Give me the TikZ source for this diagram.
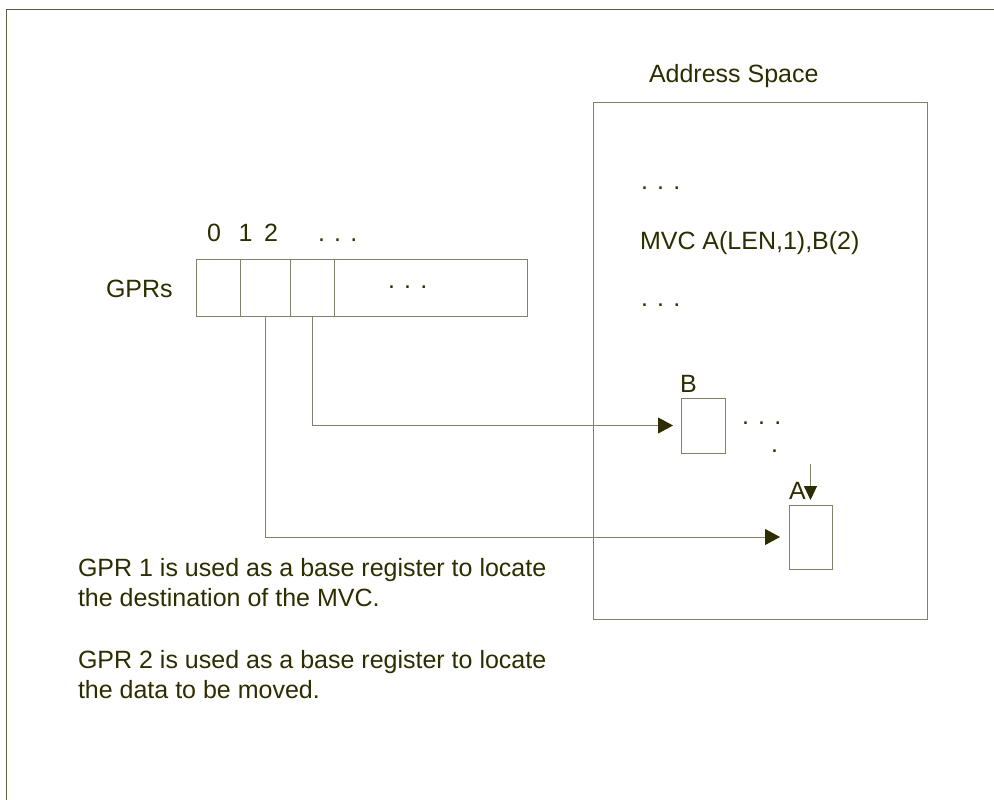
\documentclass[tikz,border=0pt]{standalone}
\usepackage{fontspec}
\setmainfont{Liberation Sans}
\usetikzlibrary{arrows.meta}
\definecolor{textcol}{RGB}{45,45,0}
\definecolor{linecol}{RGB}{130,130,105}
\definecolor{framecol}{RGB}{95,95,65}
\begin{document}
\begin{tikzpicture}[x=1pt,y=-1pt,
  every node/.style={inner sep=0pt,outer sep=0pt},
  txt/.style={anchor=base west,text=textcol,font=\fontsize{25}{30}\selectfont},
  cell/.style={draw=linecol,line width=1pt,minimum height=57pt},
  memcell/.style={draw=linecol,line width=1pt},
  conn/.style={draw=linecol,line width=1pt,-{Triangle[length=15pt,width=16pt,color=textcol]}},
  downarr/.style={draw=linecol,line width=1pt,-{Triangle[length=14pt,width=13pt,color=textcol]}}]
\useasboundingbox (0,0) rectangle (994,800);
% frame
\draw[framecol,line width=1.8pt] (6.5,800) -- (6.5,9.5) -- (994,9.5);
% address space
\node[draw=linecol,line width=1pt,minimum width=334pt,minimum height=516pt] (addr) at (760,361) {};
\node[txt] (addrlbl) at (649,83) {Address Space};
\node[txt] (dots1) at (641,189.5) {. . .};
\node[txt] (mvc) at (640,249) {MVC A(LEN,1),B(2)};
\node[txt] (dots2) at (641,306.5) {. . .};
% GPRs
\node[txt] (gprs) at (106,297) {GPRs};
\node[cell,minimum width=44pt] (g0) at (218,287.5) {};
\node[cell,minimum width=50pt] (g1) at (265,287.5) {};
\node[cell,minimum width=44pt] (g2) at (312,287.5) {};
\node[cell,minimum width=193pt] (grest) at (430.5,287.5) {};
\node[txt] (gdots) at (388,288.5) {. . .};
\node[txt] (l0) at (207,241) {0};
\node[txt] (l1) at (238.5,241) {1};
\node[txt] (l2) at (264,241) {2};
\node[txt] (ldots) at (318,241.5) {. . .};
% memory cells
\node[memcell,minimum width=44pt,minimum height=55pt] (B) at (703,425.5) {};
\node[txt] (Blbl) at (680,392) {B};
\node[txt] (bdots) at (742,424.5) {. . .};
\node[txt] (bdot) at (771,452.5) {.};
\node[memcell,minimum width=43pt,minimum height=64pt] (A) at (810.5,537) {};
\node[txt] (Albl) at (789,499) {A};
\coordinate (atop) at (810.5,464);
\draw[downarr,shorten >=5pt] (atop) -- (A.north);
% connectors
\draw[conn,shorten >=8pt] (g2.south) |- (B.west);
\draw[conn,shorten >=9pt] (g1.south) |- (A.west);
% notes
\node[txt] (n1) at (78,576.7) {GPR 1 is used as a base register to locate};
\node[txt] (n2) at (78,606.7) {the destination of the MVC.};
\node[txt] (n3) at (78,668) {GPR 2 is used as a base register to locate};
\node[txt] (n4) at (78,698) {the data to be moved.};
\end{tikzpicture}
\end{document}
